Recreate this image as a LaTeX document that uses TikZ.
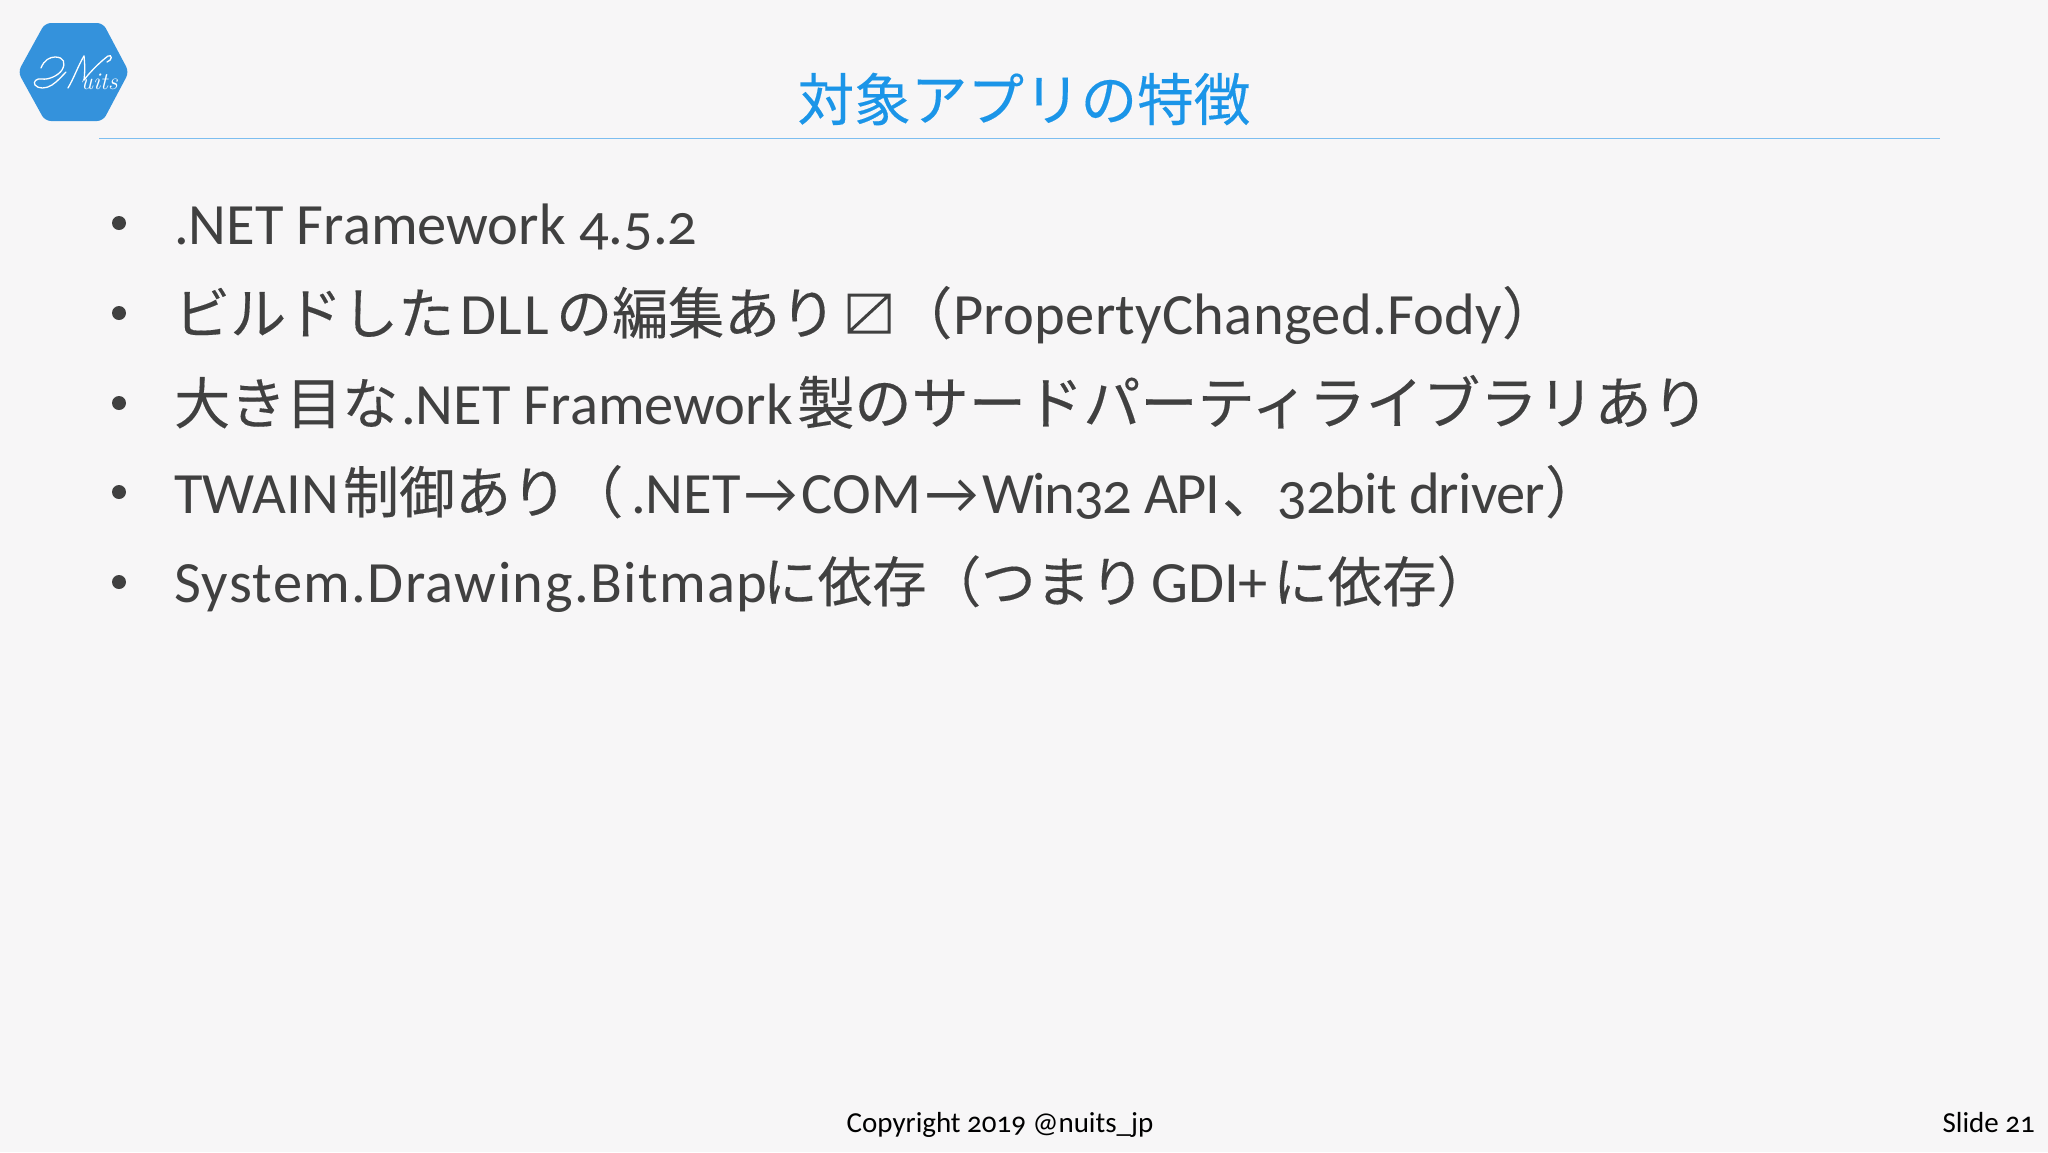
\documentclass[tikz,border=0pt]{standalone}
\usepackage{fontspec}
\setmainfont{Carlito}[Numbers=OldStyle]
\newfontfamily\cjk{Noto Sans CJK JP}[FakeBold=0.25]
\newfontfamily\logofont{Latin Modern Roman}
\newcommand{\J}[1]{{\cjk\fontsize{56}{60}\selectfont #1}}
\newcommand{\JJ}[1]{{\cjk\fontsize{54.5}{60}\selectfont #1}}
\newcommand{\ARR}{\kern4pt→\kern4pt}
\newcommand{\LS}[2]{{\addfontfeature{LetterSpace=#1}#2}}
\definecolor{bgc}{HTML}{F7F6F7}
\definecolor{txtc}{HTML}{404040}
\definecolor{titlec}{HTML}{1B95E8}
\definecolor{rulec}{HTML}{7DBEF0}
\definecolor{logoc}{HTML}{3492DC}
\tikzset{
  x=1pt,y=-1pt,
  bodyline/.style={anchor=base west,inner sep=0pt,text=txtc,font=\fontsize{58.5}{64}\selectfont},
  bulletmark/.style={circle,fill=txtc,draw=none,inner sep=0pt,minimum size=14pt},
  foot/.style={anchor=base,inner sep=0pt,text=black,font=\fontsize{29}{34}\selectfont},
  swash/.style={white,line width=1.3pt,line cap=round},
}
\begin{document}
\begin{tikzpicture}
\useasboundingbox (0,0) rectangle (2048,1152);
\fill[bgc] (0,0) rectangle (2048,1152);
% logo
\fill[logoc,rounded corners=6pt] (18,72) -- (45,23) -- (103,23) -- (129,72) -- (103,121) -- (45,121) -- cycle;
\draw[swash] (41,68) .. controls (44,60) and (50,57) .. (55,57) .. controls (64,57) and (66,63) .. (62,70) .. controls (58,76) and (48,80) .. (42,79) .. controls (36,78) and (33,82) .. (35,85) .. controls (38,89) and (46,89) .. (52,85) .. controls (58,81) and (62,76) .. (66,72);
\draw[swash] (68,88) .. controls (74,78) and (78,66) .. (84,56);
\draw[swash] (84,56) .. controls (85,66) and (85,72) .. (84,80);
\draw[swash] (84,80) .. controls (90,72) and (100,62) .. (108,56) .. controls (112,54) and (113,60) .. (107,62);
\node (logotext) at (99,82) [inner sep=0pt,text=white,font=\logofont\fontsize{24}{26}\selectfont\itshape] {uits};
% title
\node (title) at (1024,99) [inner sep=0pt,text=titlec,font=\cjk\fontsize{56.6}{60}\selectfont] {対象アプリの特徴};
\coordinate (ruleL) at (99,138.5);
\coordinate (ruleR) at (1940,138.5);
\draw[rulec,line width=1.5pt] (ruleL) -- (ruleR);
% bullets
\foreach \n/\y in {1/223,2/313,3/403,4/492,5/582}{
  \node[bulletmark] (b\n) at (119,\y) {};
}
% line 1
\node[bodyline] (l1) at (174,244) {.NET Framework 4.5.2};
% line 2
\node[bodyline] (l2a) at (174,334) {\J{ビルドした}};
\node[bodyline] (l2b) at (460,334) {\LS{3}{DLL}};
\node[bodyline] (l2c) at (556,334) {\J{の編集あり}};
\draw[txtc,line width=3pt] (849,295) rectangle (889,332) (849,332) -- (889,295);
\node[bodyline] (l2d) at (896,334) {\J{（}};
\node[bodyline] (l2e) at (953,334) {\LS{0.5}{PropertyChanged.Fody}\J{）}};
% line 3
\node[bodyline] (l3a) at (174,424) {\J{大き目な}};
\node[bodyline] (l3b) at (401,424) {.NET Framework};
\node[bodyline] (l3c) at (797,424) {{\cjk\fontsize{57.2}{60}\selectfont 製のサードパーティライブラリあり}};
% line 4
\node[bodyline] (l4a) at (174,513) {\LS{0.5}{TWAIN}};
\node[bodyline] (l4b) at (343,513) {\J{制御あり（}};
\node[bodyline] (l4c) at (631,513) {.NET\ARR COM\ARR\LS{-2.2}{Win32 API}};
\node[bodyline] (l4d) at (1222,513) {\J{、}};
\node[bodyline] (l4e) at (1277,513) {\LS{-1.5}{32bit driver}};
\node[bodyline] (l4f) at (1545,513) {\J{）}};
% line 5
\node[bodyline] (l5a) at (174,602) {\LS{2.4}{System.Drawing.Bitmap}};
\node[bodyline] (l5b) at (763,602) {\JJ{に依存（つまり}};
\node[bodyline] (l5c) at (1151,602) {GDI+};
\node[bodyline] (l5d) at (1273,602) {\JJ{に依存）}};
% footer
\node[foot] (copy) at (1000,1132) {Copyright 2019 @nuits\_jp};
\node[foot,anchor=base east] (slide) at (2035,1132) {Slide 21};
\end{tikzpicture}
\end{document}
